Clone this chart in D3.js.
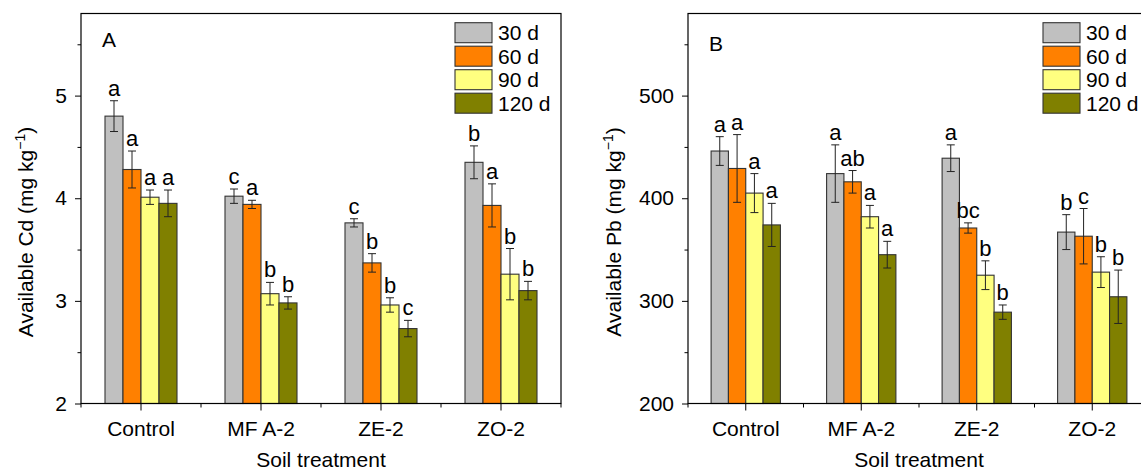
<!DOCTYPE html>
<html lang="en">
  <head>
    <meta charset="utf-8">
    <title>Available Cd and Pb</title>
    <script type="text/javascript" src="https://d3js.org/d3.v7.min.js"></script>
    <style type="text/css">
      body {
        margin: 0;
        background: #ffffff;
      }
      svg {
        display: block;
        font-family: Arial, "Liberation Sans", sans-serif;
      }
      .tick text {
        font-family: Arial, "Liberation Sans", sans-serif;
        font-size: 21px;
        fill: #000000;
      }
      .title {
        font-size: 21px;
      }
      .letter {
        font-size: 22px;
        text-anchor: middle;
      }
      .panelLabel {
        font-size: 21px;
      }
      .legend {
        font-size: 21px;
      }
    </style>
  </head>
  <body>
    <div id="chart"></div>
    <script type="text/javascript">

    // data
    const treatments = ["Control", "MF A-2", "ZE-2", "ZO-2"];
    const days = ["30 d", "60 d", "90 d", "120 d"];
    const colors = ["#c0c0c0", "#ff8000", "#ffff80", "#808000"];

    const cdMean = [[4.80, 4.28, 4.01, 3.95], [4.02, 3.94, 3.07, 2.98], [3.76, 3.37, 2.96, 2.73], [4.35, 3.93, 3.26, 3.10]];
    const cdErr = [[0.15, 0.18, 0.07, 0.13], [0.07, 0.04, 0.11, 0.06], [0.04, 0.09, 0.07, 0.08], [0.16, 0.21, 0.25, 0.09]];
    const cdLetters = [["a", "a", "a", "a"], ["c", "a", "b", "b"], ["c", "b", "b", "c"], ["b", "a", "b", "b"]];
    const cdTicks = [2, 3, 4, 5];
    const cdMinor = [2.5, 3.5, 4.5, 5.5];

    const pbMean = [[446, 429, 405, 374], [424, 416, 382, 345], [439, 371, 325, 289], [367, 363, 328, 304]];
    const pbErr = [[14, 33, 19, 21], [28, 11, 11, 13], [13, 5, 14, 7], [17, 27, 15, 26]];
    const pbLetters = [["a", "a", "a", "a"], ["a", "ab", "a", "a"], ["a", "bc", "b", "b"], ["b", "c", "b", "b"]];
    const pbTicks = [200, 300, 400, 500];
    const pbMinor = [250, 350, 450, 550];

    // layout
    const width = 1141;
    const height = 470;
    const plotTop = 13.5;
    const plotBottom = 403.5;

    const svg = d3.select('#chart')
      .append('svg')
      .attr('width', width)
      .attr('height', height);

    function panel(opt) {

      const x = d3.scaleBand()
        .domain(treatments)
        .range([opt.left, opt.right]);

      const bw = x.bandwidth();

      const xSub = d3.scaleBand()
        .domain(days)
        .range([0, bw * 0.6]);

      const y = d3.scaleLinear()
        .domain(opt.domain)
        .range([plotBottom, plotTop]);

      const g = svg.append('g');

      // flatten rows for drawing
      const rows = [];
      treatments.forEach((t, i) => {
        days.forEach((d, j) => {
          rows.push({t: t, d: d, j: j, v: opt.mean[i][j], e: opt.err[i][j], l: opt.letters[i][j]});
        });
      });

      const bx = d => x(d.t) + bw * 0.2 + xSub(d.d);

      g.selectAll('rect.bar')
        .data(rows)
        .enter()
        .append('rect')
        .attr('class', 'bar')
        .attr('x', bx)
        .attr('y', d => y(d.v))
        .attr('width', xSub.bandwidth())
        .attr('height', d => y(opt.domain[0]) - y(d.v))
        .attr('fill', d => colors[d.j])
        .attr('stroke', '#333333')
        .attr('stroke-width', 1.1);

      // error bars
      const eb = g.selectAll('g.err')
        .data(rows)
        .enter()
        .append('g')
        .attr('class', 'err')
        .attr('stroke', '#222222')
        .attr('stroke-width', 1);

      const cx = d => bx(d) + xSub.bandwidth() / 2;

      eb.append('line')
        .attr('x1', cx).attr('x2', cx)
        .attr('y1', d => y(d.v + d.e)).attr('y2', d => y(d.v - d.e));
      eb.append('line')
        .attr('x1', d => cx(d) - 4).attr('x2', d => cx(d) + 4)
        .attr('y1', d => y(d.v + d.e)).attr('y2', d => y(d.v + d.e));
      eb.append('line')
        .attr('x1', d => cx(d) - 4).attr('x2', d => cx(d) + 4)
        .attr('y1', d => y(d.v - d.e)).attr('y2', d => y(d.v - d.e));

      // significance letters
      g.selectAll('text.letter')
        .data(rows)
        .enter()
        .append('text')
        .attr('class', 'letter')
        .attr('x', cx)
        .attr('y', d => y(d.v + d.e) - 5)
        .text(d => d.l);

      // frame
      g.append('rect')
        .attr('x', opt.left)
        .attr('y', plotTop)
        .attr('width', opt.right - opt.left)
        .attr('height', plotBottom - plotTop)
        .attr('fill', 'none')
        .attr('stroke', '#000000')
        .attr('stroke-width', 1.2);

      // y axis
      g.append('g')
        .attr('transform', 'translate(' + opt.left + ',0)')
        .call(d3.axisLeft(y).tickValues(opt.ticks).tickFormat(d3.format('d')).tickSize(6).tickPadding(8))
        .call(a => a.select('.domain').remove());

      g.append('g')
        .attr('transform', 'translate(' + opt.left + ',0)')
        .call(d3.axisLeft(y).tickValues(opt.minor).tickSize(3.5).tickFormat(''))
        .call(a => a.select('.domain').remove());

      // x axis
      g.append('g')
        .attr('transform', 'translate(0,' + plotBottom + ')')
        .call(d3.axisBottom(x).tickSize(7).tickPadding(10.5))
        .call(a => a.select('.domain').remove());

      const edges = treatments.map(t => x(t)).concat([opt.right]);
      g.selectAll('line.minorx')
        .data(edges)
        .enter()
        .append('line')
        .attr('class', 'minorx')
        .attr('x1', d => d).attr('x2', d => d)
        .attr('y1', plotBottom).attr('y2', plotBottom + 4)
        .attr('stroke', '#000000');

      // titles
      g.append('text')
        .attr('class', 'title')
        .attr('x', (opt.left + opt.right) / 2)
        .attr('y', 466.5)
        .attr('text-anchor', 'middle')
        .text('Soil treatment');

      const yt = g.append('text')
        .attr('class', 'title')
        .attr('text-anchor', 'middle')
        .attr('transform', 'translate(' + (opt.left - opt.titleGap) + ',232) rotate(-90)');
      yt.append('tspan').text(opt.yLabel + ' (mg kg');
      yt.append('tspan').attr('dy', -8).attr('font-size', 14).text('\u22121');
      yt.append('tspan').attr('dy', 8).text(')');

      g.append('text')
        .attr('class', 'panelLabel')
        .attr('x', opt.left + 21)
        .attr('y', opt.labelY)
        .text(opt.label);

      // legend
      const lg = g.append('g')
        .attr('transform', 'translate(' + (opt.legendX) + ',22.7)');

      const li = lg.selectAll('g')
        .data(days)
        .enter()
        .append('g')
        .attr('transform', (d, i) => 'translate(0,' + (i * 23.5) + ')');

      li.append('rect')
        .attr('width', 37)
        .attr('height', 20)
        .attr('fill', (d, i) => colors[i])
        .attr('stroke', '#333333')
        .attr('stroke-width', 1.1);

      li.append('text')
        .attr('class', 'legend')
        .attr('x', 43)
        .attr('y', 17.5)
        .text(d => d);
    }

    panel({left: 81, right: 561, domain: [2, 5.8], mean: cdMean, err: cdErr, letters: cdLetters,
           ticks: cdTicks, minor: cdMinor, yLabel: 'Available Cd', titleGap: 48, label: 'A', labelY: 46.5, legendX: 455});

    panel({left: 688, right: 1150, domain: [200, 580], mean: pbMean, err: pbErr, letters: pbLetters,
           ticks: pbTicks, minor: pbMinor, yLabel: 'Available Pb', titleGap: 67, label: 'B', labelY: 50.5, legendX: 1043});

    </script>
  </body>
</html>
